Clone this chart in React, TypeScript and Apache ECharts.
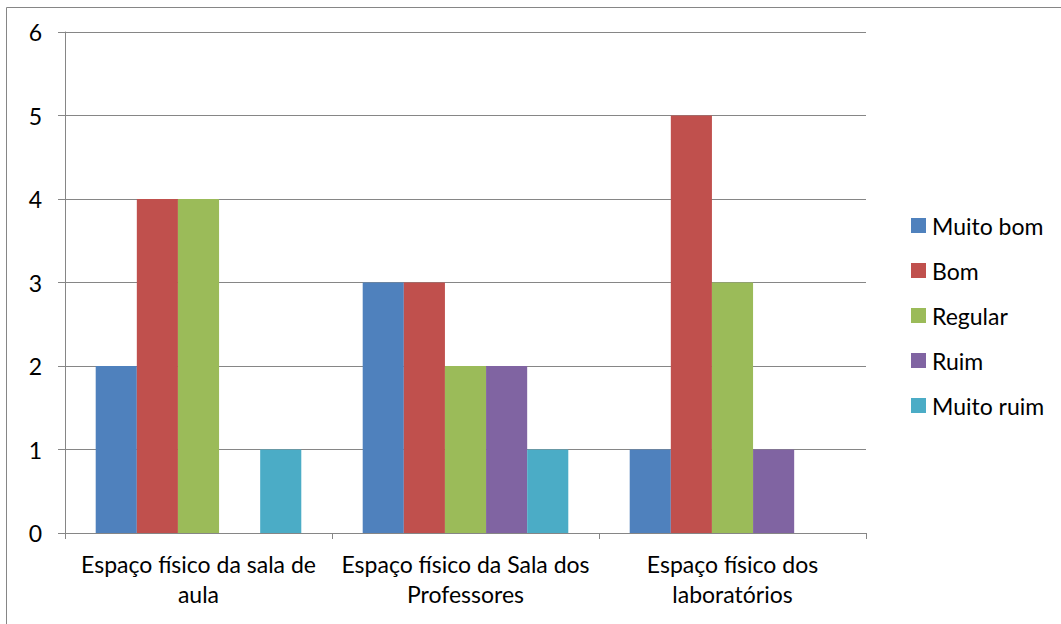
import React, { useEffect, useRef } from "react";
import * as echarts from "echarts";

const categories = [
  "Espaço físico da sala de\naula",
  "Espaço físico da Sala dos\nProfessores",
  "Espaço físico dos\nlaboratórios",
];
const seriesNames = ["Muito bom", "Bom", "Regular", "Ruim", "Muito ruim"];
const muitoBom = [2, 3, 1];
const bom = [4, 3, 5];
const regular = [4, 2, 3];
const ruim = [0, 2, 1];
const muitoRuim = [1, 1, 0];
const colors = ["#4F81BD", "#C0504D", "#9BBB59", "#8064A2", "#4BACC6"];
const yTicks = [0, 1, 2, 3, 4, 5, 6];

export default function App() {
  const ref = useRef<HTMLDivElement>(null);
  useEffect(() => {
    if (!ref.current) return;
    const chart = echarts.init(ref.current, null, { renderer: "svg" });
    const values = [muitoBom, bom, regular, ruim, muitoRuim];
    const font = "Lato, 'Open Sans', sans-serif";
    chart.setOption({
      animation: false,
      backgroundColor: "#ffffff",
      textStyle: { fontFamily: font },
      graphic: [
        {
          type: "rect",
          shape: { x: 6.5, y: 7.5, width: 1100, height: 700 },
          style: { fill: "none", stroke: "#868686", lineWidth: 1 },
          silent: true,
        },
      ],
      legend: {
        orient: "vertical",
        left: 911,
        top: 214,
        padding: 0,
        itemWidth: 15,
        itemHeight: 15,
        itemGap: 22,
        icon: "rect",
        data: seriesNames,
        textStyle: { fontSize: 23, color: "#000", fontFamily: font, lineHeight: 23, padding: [0, 0, 0, 1] },
      },
      grid: { left: 65, top: 32, right: 195, bottom: 91, containLabel: false },
      xAxis: {
        type: "category",
        data: categories,
        axisLine: { show: true, lineStyle: { color: "#868686", width: 1 } },
        axisTick: { show: true, length: 6, lineStyle: { color: "#868686" }, alignWithLabel: false },
        axisLabel: {
          color: "#000",
          fontSize: 23,
          fontFamily: font,
          lineHeight: 30,
          margin: 16,
          interval: 0,
        },
      },
      yAxis: {
        type: "value",
        min: 0,
        max: 6,
        interval: 1,
        axisLine: { show: true, lineStyle: { color: "#868686", width: 1 } },
        axisTick: { show: true, length: 7, lineStyle: { color: "#868686" } },
        axisLabel: {
          color: "#000",
          fontSize: 23,
          fontFamily: font,
          margin: 23,
          formatter: (v: number) => (yTicks.includes(v) ? String(v) : ""),
        },
        splitLine: { show: true, lineStyle: { color: "#868686", width: 1 } },
      },
      series: seriesNames.map((name, i) => ({
        name,
        type: "bar",
        data: values[i],
        barGap: "0%",
        barCategoryGap: "23%",
        itemStyle: { color: colors[i] },
      })),
    });
    return () => chart.dispose();
  }, []);
  return (
    <div
      ref={ref}
      style={{ position: "absolute", left: 0, top: 0, width: 1061, height: 624 }}
    />
  );
}
